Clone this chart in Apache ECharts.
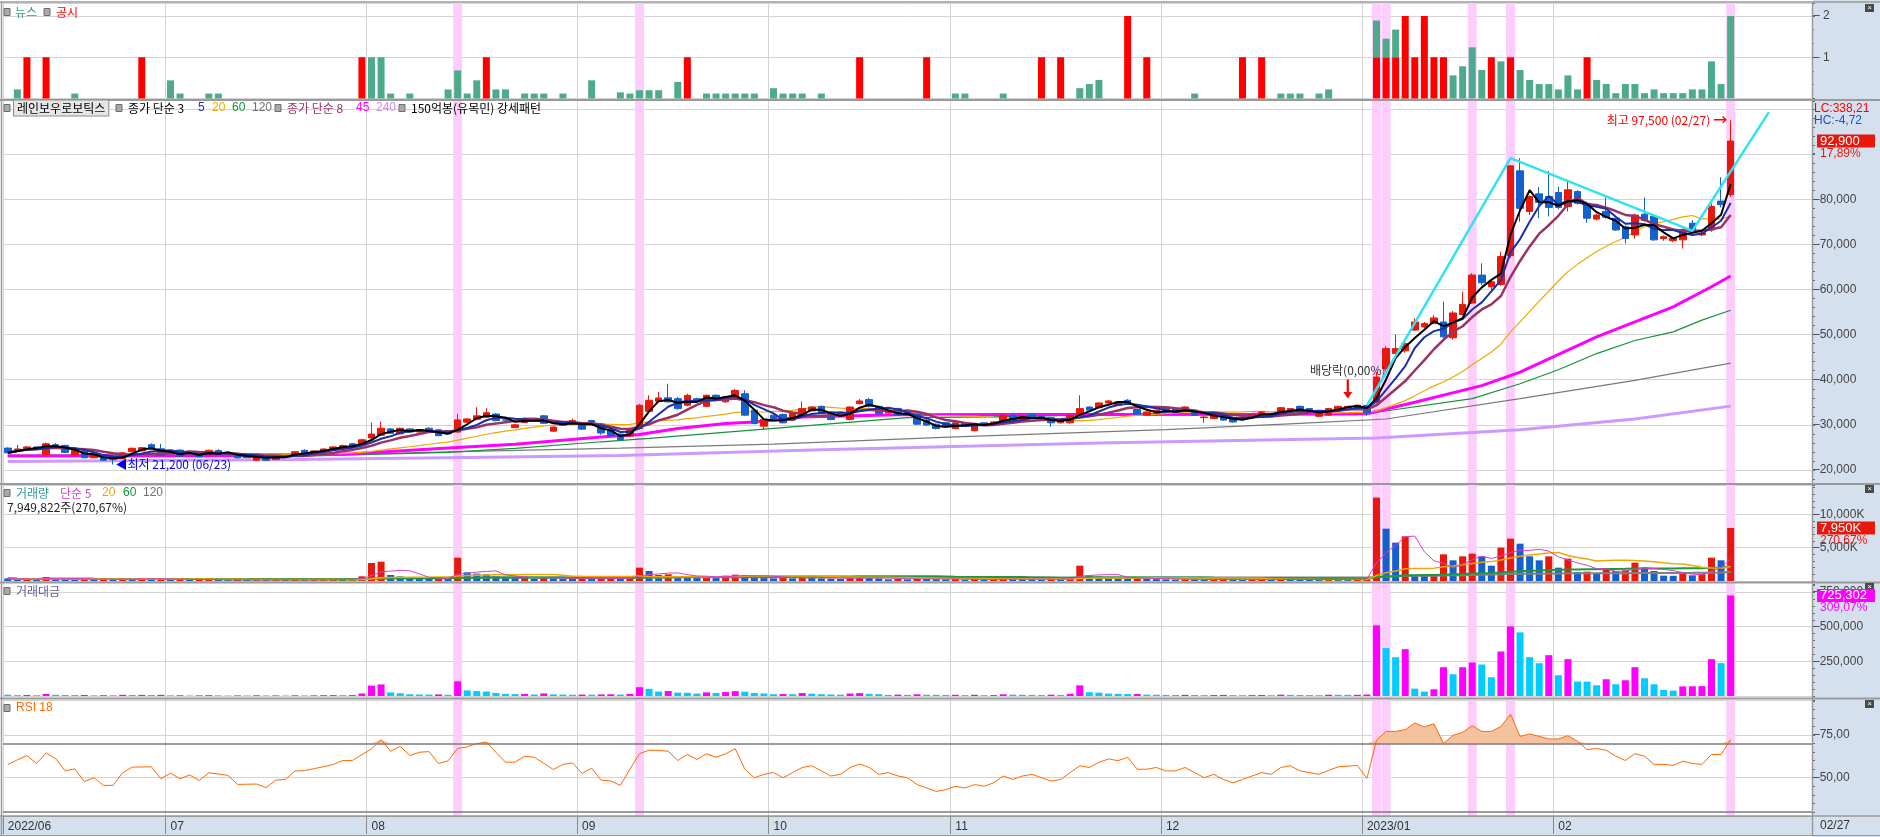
<!DOCTYPE html>
<html><head><meta charset="utf-8">
<script src="https://cdn.jsdelivr.net/npm/echarts@6/dist/echarts.min.js"></script>
<style>html,body{margin:0;padding:0;background:#fff;overflow:hidden}#c{width:1880px;height:837px}</style>
</head><body><div id="c"></div>
<script>
// ---------- categories (trading days) ----------
const monthKeys = ['2022/06','2022/07','2022/08','2022/09','2022/10','2022/11','2022/12','2023/01','2023/02'];
const monthLabelText = ['2022/06','07','08','09','10','11','12','2023/01','02'];
const daysJun22 = [8,9,10,13,14,15,16,17,20,21,22,23,24,27,28,29,30];
const daysJul22 = [1,4,5,6,7,8,11,12,13,14,15,18,19,20,21,22,25,26,27,28,29];
const daysAug22 = [1,2,3,4,5,8,9,10,11,12,16,17,18,19,22,23,24,25,26,29,30,31];
const daysSep22 = [1,2,5,6,7,8,13,14,15,16,19,20,21,22,23,26,27,28,29,30];
const daysOct22 = [4,5,6,7,11,12,13,14,17,18,19,20,21,24,25,26,27,28,31];
const daysNov22 = [1,2,3,4,7,8,9,10,11,14,15,16,17,18,21,22,23,24,25,28,29,30];
const daysDec22 = [1,2,5,6,7,8,9,12,13,14,15,16,19,20,21,22,23,26,27,28,29];
const daysJan23 = [2,3,4,5,6,9,10,11,12,13,16,17,18,19,20,25,26,27,30,31];
const daysFeb23 = [1,2,3,6,7,8,9,10,13,14,15,16,17,20,21,22,23,24,27];
const futureSlots = ['2023/02/28','2023/03/02','2023/03/03','2023/03/06','2023/03/07','2023/03/08','2023/03/09','2023/03/10'];

// ---------- price (OHLC) ----------
const openP = [
24850,24550,24350,25100,23400,25600,25450,23350,24150,22700,
23250,22400,22550,24050,24200,25600,24700,23650,24400,23750,
24050,23350,24300,23700,23600,23200,22150,23000,22300,22900,
23350,24350,23650,24050,24350,24800,25800,25550,27100,27700,
29100,28000,29100,28400,29250,28900,28750,28400,30600,31250,
31700,32400,31100,29400,30500,31250,32000,28600,29900,30400,
30500,30950,30200,28900,27950,27500,29200,33000,35200,36000,
35800,34350,35800,34100,36550,35100,36200,36900,33250,29700,
32150,32300,31050,31750,33100,34100,32650,32850,31200,34700,
35600,34100,32650,33600,32850,32350,31050,30150,30450,29200,
30300,28700,30450,29950,30300,32150,31050,32350,31900,31600,
30450,30450,32150,33950,33800,34850,34350,35450,33400,32150,
32500,33600,33600,33250,33250,31600,31400,32500,31400,31400,
31600,31900,32500,32150,32850,34100,33600,31900,32150,33250,
33400,33600,34300,35050,42450,45800,46400,51000,51700,52450,
52800,49300,54450,57000,63200,60600,61100,67500,86300,77300,
81200,80600,81500,78400,81700,79100,75600,77300,75800,73900,
72100,76700,76200,71300,70800,71000,74700,72100,73200,79600,
81000];
const highP = [
25000,25550,25300,25200,26100,26000,25600,24500,24300,23500,
23300,22700,24000,25000,25100,25900,25800,24400,24500,24300,
24200,24500,24600,24000,23800,23300,23300,23200,23200,23400,
24200,24600,24400,24800,25300,25600,26000,26900,30500,30700,
29300,29400,29300,29100,29500,29000,28900,32400,31500,33900,
33700,32600,31300,30200,31600,31400,32200,29700,30700,31400,
30700,31100,30400,29100,28100,29400,34600,36550,37300,39100,
36200,36900,36000,36700,36800,36400,38000,37650,33400,31400,
32300,32500,32800,35200,34100,34300,32800,33000,34100,35700,
36000,34300,33200,33800,33000,32500,31200,30300,30600,30600,
30400,30400,30600,30800,32300,32300,32000,32500,32000,31700,
31000,32300,36550,34100,35000,35500,35200,35700,33500,33000,
33400,33700,33700,34100,33400,31900,32500,32600,31500,31900,
32500,33000,32600,33900,33700,34300,33700,32600,33700,34200,
34200,34500,34500,41700,47400,50000,48300,53600,52800,54300,
57300,55200,59500,63600,65800,62000,68400,87600,89100,80800,
82700,86300,82800,84300,82000,79500,76800,80400,76000,74200,
76800,80400,76500,72000,71700,73500,75400,72800,79000,84900,
97500];
const lowP = [
23750,24400,24300,24700,23200,25100,23800,23200,22600,22600,
22000,21200,22400,23900,24100,24500,23100,23500,22900,23600,
22800,23200,23500,23500,22600,22600,22000,22000,22200,22800,
23200,23600,23500,23900,24200,24700,25100,25400,26700,27500,
28000,27900,28300,28300,28400,27500,27900,28200,30400,31000,
31500,30800,30900,29300,30400,31000,30200,28500,29800,30300,
28900,30400,27800,27400,26500,27300,29000,32800,35000,34900,
33400,34100,34900,33900,35600,34900,36000,32000,30100,28900,
31200,30300,30900,31600,33000,32300,31000,32000,31000,34500,
33900,32300,32500,32000,32000,30000,29800,29000,29400,29000,
29600,28600,29900,29800,30200,31000,30900,31500,31100,29550,
30300,30300,32000,33100,33700,34700,34200,34700,32200,32000,
32400,32700,32700,33100,32000,30450,31300,30900,30500,31300,
31500,31800,31800,32000,32700,32700,32700,31700,32000,33100,
33300,33500,32000,34800,42000,45500,46000,50800,51500,52300,
49300,48900,54300,56800,61000,59900,60800,67000,75000,76500,
75800,76200,77800,77300,78800,74800,75300,75700,73000,70200,
71300,75000,70800,70800,70500,69100,72900,71800,72800,78200,
80500];
const closeP = [
23800,24650,25100,24800,25800,25250,23900,24350,22700,23400,
22150,22300,23800,24800,24950,24650,23200,24200,23050,24000,
22900,24350,23600,23800,22700,22750,23200,22150,23050,23200,
24050,23750,24200,24650,25100,25400,25250,26700,27950,29250,
28150,29250,28400,28950,28550,27600,28000,31100,31300,32000,
32700,30950,31050,30000,31450,31200,30350,29500,30500,30950,
29050,30500,28200,27600,26750,29200,34350,35450,35950,35100,
33600,36550,35100,36550,35800,36200,37650,32150,30300,31200,
31400,30450,32650,33600,33950,32500,31200,32150,33950,35300,
34100,32500,33000,32150,32150,30150,29950,29200,29550,30450,
29700,30300,29950,30650,32150,31050,31900,31600,31200,30450,
30900,32150,33600,33250,34850,35300,35050,34850,32350,32850,
33250,32850,32850,33950,32150,31750,32350,31050,30650,31750,
32350,32850,31900,33800,33600,32850,32850,32500,33600,34100,
34100,34350,32700,40600,46900,46900,48000,52800,52450,53700,
49500,54800,56700,63200,61500,61700,67300,87400,78000,80600,
79300,78200,78200,82100,79100,75800,76500,76000,73200,71300,
76500,75300,71000,71700,71300,73300,73200,72500,78400,78800,
92900];

// long moving averages: [dayIndex, value]
const ma45Pts = [[0,23100],[28,23150],[36,23600],[46,24850],[53,25700],[62,27300],[66,27850],[70,29200],[75,30300],[78,30650],[83,31750],[93,32250],[104,32280],[114,32300],[130,32350],[142,32450],[147,35000],[154,38700],[158,41700],[166,49500],[174,56150],[178,60600],[180,63000]];
const ma60Pts = [[0,23000],[33,23200],[40,23550],[46,23900],[53,24800],[62,26250],[67,27000],[80,29200],[94,31600],[103,31770],[114,32200],[129,32300],[141,32280],[143,32800],[153,35800],[158,39100],[162,42200],[166,45800],[170,48700],[174,50600],[177,53200],[180,55400]];
const ma120Pts = [[0,23300],[40,23700],[46,24000],[64,24850],[80,25750],[99,27350],[121,28950],[135,30350],[144,31300],[158,35800],[170,39850],[180,43700]];
const ma240Pts = [[0,21900],[30,22300],[50,22800],[64,23200],[85,24500],[114,26000],[143,27100],[158,28900],[170,31300],[180,34150]];
// cyan pattern line: [dayIndex, price]
const trendPts = [[142,34300],[157,89100],[176,73000],[184,99300]];

// ---------- volume (K shares) ----------
const volumeK = [
400,250,300,220,600,350,300,280,320,200,
260,240,380,300,320,280,350,200,230,150,
200,250,180,140,200,160,230,180,200,150,
220,170,200,240,260,230,250,700,2700,2900,
900,700,450,380,350,420,300,3500,1300,1100,
1000,700,500,450,500,350,600,400,350,300,
350,320,400,450,380,500,2000,1500,900,1000,
700,650,500,750,600,800,950,900,700,600,
400,450,400,650,500,400,350,300,550,600,
450,400,250,300,250,400,300,280,250,300,
200,300,200,220,400,300,280,250,220,300,
250,500,2300,800,700,500,450,400,450,300,
280,250,220,250,230,200,220,250,200,180,
200,230,180,300,250,220,200,180,280,260,
250,260,330,12500,7850,5750,6700,850,800,1000,
4000,3100,3700,4100,3700,2300,5000,6350,5600,3700,
3100,3700,2000,3350,1350,1400,1100,1850,1500,1600,
2750,2000,1500,800,780,1200,850,1100,3500,3100,
7949.822];
// ---------- trading amount (million KRW) ----------
const amountM = [
9600,6150,7500,5500,15000,8900,7350,6700,7450,4600,
5900,5350,8850,7350,7900,7000,8400,4800,5400,3600,
4700,6000,4300,3300,4600,3700,5250,4050,4550,3450,
5250,4100,4800,5850,6450,5800,6400,18400,75000,83800,
25700,20200,13000,10900,10100,11800,8500,106000,40300,35000,
32300,22200,15500,13400,15500,10900,18700,11600,10600,9200,
10400,9800,11600,12700,10400,14200,63600,51750,32000,36000,
24300,23100,17700,26500,21700,28500,35100,31000,22200,18300,
12700,14100,12800,21400,16800,13300,11200,9750,17900,21000,
15700,13300,8200,9900,8100,12500,9150,8300,7500,8950,
6000,8850,6050,6650,12500,9500,8800,8000,6950,9300,
7650,15600,77000,26900,24000,17500,15600,14000,14700,9750,
9200,8300,7300,8400,7500,6300,7000,7950,6200,5700,
6400,7450,5800,9900,8300,7350,6650,5800,9200,8750,
8450,8850,11000,509600,345300,280100,338100,53100,31400,48300,
207700,157000,207700,241500,227000,135200,321200,502300,458900,280100,
236700,294600,149700,265700,104000,103500,77300,120800,84500,113500,
207700,128000,84500,43500,38600,69000,70000,71000,265700,236700,
725302];
// ---------- RSI 18 ----------
const rsi18 = [
57.6,60.5,63,58.3,64.5,61.2,54,55.2,47.7,50,
45.5,45.5,52.9,56.2,56.3,56.4,49.4,52.7,49.4,51.6,
48.4,52.9,52.2,51.4,46.1,46.2,46.3,44.2,48.6,49,
53.9,54.2,55.3,56.5,57.8,60.1,60.1,63.5,66.9,72.3,
65.5,68.4,63,64.9,65.3,58.3,59.9,67.2,68,70,
70.9,64.9,59.1,59.1,62.6,62,58.5,54.8,57.8,58.7,
52.5,55.6,48.6,48.1,45.5,55,64.1,66.1,66,65.5,
60.1,63.6,60.7,64,62,64,67,55,50,52,
53,50,53,56,57,54,51,52,56,58,
56,52,53,51,50,46,44,42,43,45,
44,46,45,47,51,49,51,52,50,48,
49,53,57,56,59,61,60,62,55,55,
56,54,54,56,53,50,52,49,47,49,
51,53,52,56,57,54,53,52,54.3,56.4,
56.8,57.2,49.6,72,77.1,77.1,78.1,82,79.7,81.6,
70,74.8,76.6,80.4,77.1,77.1,80,87.2,74.2,75.6,
74.2,72.7,72.7,74.6,71.3,66.5,67.1,66.1,62.6,60.1,
64.1,62.6,57.8,57.8,57.2,59.7,58.3,57.8,63.6,63.6,
72.3];
// ---------- news / disclosure counts: [dayIndex, count] ----------
const newsPts = [[1,0.22],[7,0.12],[17,0.44],[18,0.12],[21,0.12],[22,0.12],[38,1],[39,1],[40,0.12],[42,0.12],[46,0.22],[47,0.68],[48,0.12],[49,0.44],[51,0.22],[52,0.22],[54,0.12],[55,0.12],[56,0.12],[58,0.12],[61,0.44],
[64,0.15],[65,0.12],[66,0.2],[67,0.2],[68,0.2],[70,0.4],[73,0.12],[74,0.12],[75,0.12],[76,0.12],[77,0.12],[78,0.12],[80,0.25],[81,0.12],[82,0.12],[83,0.12],[85,0.12],[99,0.12],[100,0.12],[104,0.12],[112,0.25],[113,0.35],[114,0.45],[124,0.12],[133,0.12],[134,0.12],[135,0.12],[137,0.12],[138,0.22],
[143,0.89],[144,0.45],[145,0.67],[151,0.56],[152,0.78],[153,1.24],[154,0.69],[156,0.9],[158,0.69],[159,0.45],[160,0.35],[161,0.35],[162,0.22],[163,0.56],[164,0.22],[166,0.45],[167,0.35],[168,0.13],[169,0.35],[170,0.35],[171,0.13],[172,0.22],[173,0.13],[174,0.13],[175,0.13],[176,0.22],[177,0.22],[178,0.9],[179,0.35],[180,2]];
const disclosurePts = [[2,1],[4,1],[14,1],[37,1],[50,1],[71,1],[89,1],[96,1],[108,1],[110,1],[117,2],[119,1],[129,1],[131,1],[143,1],[144,1],[145,1],[146,2],[147,1],[148,2],[149,1],[150,1],[155,1],[157,1],[165,1]];
// highlighted (pink) days
const highlightIdx = [47,66,143,144,153,157,180];
// last-value tags on the right axis
const priceTag = ['92,900', '17,89%'];
const volumeTag = ['7,950K', '270,67%'];
const amountTag = ['725,302', '309,07%'];

// ---------- build ----------
const dayLists = [daysJun22,daysJul22,daysAug22,daysSep22,daysOct22,daysNov22,daysDec22,daysJan23,daysFeb23];
const dates = []; const monthStart = {};
monthKeys.forEach((m,k)=>{ dayLists[k].forEach((d,j)=>{ if(j===0) monthStart[dates.length]=monthLabelText[k]; dates.push(m+'/'+String(d).padStart(2,'0')); }); });
const cats = dates.concat(futureSlots);
const N = dates.length;

function sma(arr, n, fromFull){ return arr.map((v,i)=>{ if(fromFull && i<n-1) return '-'; let s=0,c=0; for(let k=Math.max(0,i-n+1);k<=i;k++){s+=arr[k];c++;} return +(s/c).toFixed(2); }); }
function sparse(list){ const a=new Array(N).fill(0); list.forEach(p=>{a[p[0]]=p[1];}); return a; }
const pts = list => list.map(p=>[cats[p[0]], p[1]]);
const fmt = v => Math.round(v).toLocaleString('en-US');

const RED='#e8190c', BLUE='#1460cc', GRID='#d3d3d3', T='rgba(0,0,0,0)', PANEL='#d5e0ee';
const NUMFONT = "'Liberation Sans', Arial, sans-serif";
const KFONT = "'Noto Sans CJK KR', 'Liberation Sans', sans-serif";
const L=3, W=1809;
const RSI_OB = 70;

const xa = (gi, show) => ({ type:'category', gridIndex:gi, data:cats, boundaryGap:true, show:show,
  axisLine:{show:show, lineStyle:{color:'#9a9a9a'}},
  axisTick:{show:show, interval:(i)=>monthStart[i]!==undefined, length:18, lineStyle:{color:'#8a8a8a'}},
  splitLine:{show:show, interval:(i)=>monthStart[i]!==undefined, lineStyle:{color:GRID}},
  axisLabel:{show:show, interval:(i)=>monthStart[i]!==undefined, formatter:(v,i)=>monthStart[i]||'', align:'left', margin:5, color:'#333', fontSize:12, fontFamily:NUMFONT}
});
const ya = (gi, o) => Object.assign({ type:'value', gridIndex:gi, position:'right', scale:false,
  axisLine:{show:true, lineStyle:{color:'#9a9a9a'}},
  axisTick:{show:true, length:3, lineStyle:{color:'#666'}},
  axisLabel:{margin:1, color:'#444', fontSize:12, fontFamily:NUMFONT}
}, o);

const closeMA3 = sma(closeP,3,false), closeMA5 = sma(closeP,5,false), closeMA8 = sma(closeP,8,false), closeMA20 = sma(closeP,20,true);
const volMA5 = sma(volumeK,5,false), volMA20 = sma(volumeK,20,false), volMA60 = sma(volumeK,60,false), volMA120 = sma(volumeK,120,false);

const line = (name, data, color, width, xi, yi, z) => ({ name, type:'line', data, xAxisIndex:xi, yAxisIndex:yi, showSymbol:false, symbol:'none', silent:true, z:z||2,
  lineStyle:{color, width}, itemStyle:{color} });

const series = [];
// pink highlight columns (full height)
series.push({ type:'bar', xAxisIndex:0, yAxisIndex:0, data: dates.map((d,i)=>highlightIdx.includes(i)?1:0), barWidth:9, itemStyle:{color:'#fdcdfb'}, silent:true, z:0 });
// news panel
series.push({ type:'bar', xAxisIndex:1, yAxisIndex:1, stack:'n', data:sparse(disclosurePts), barWidth:7, itemStyle:{color:'#ff0000'}, silent:true });
series.push({ type:'bar', xAxisIndex:1, yAxisIndex:1, stack:'n', data:sparse(newsPts), barWidth:7, itemStyle:{color:'#4dab8c'}, silent:true });
// price MAs
series.push(line('ma240', pts(ma240Pts), '#cc99ff', 3, 2, 2));
series.push(line('ma120', pts(ma120Pts), '#7a7a7a', 1.2, 2, 2));
series.push(line('ma60', pts(ma60Pts), '#169238', 1.2, 2, 2));
series.push(line('ma45', pts(ma45Pts), '#ff00ff', 3, 2, 2));
series.push(line('ma20', closeMA20, '#f0a800', 1.2, 2, 2));
series.push(line('ma8', closeMA8, '#993366', 2.5, 2, 2, 4));
series.push(line('ma5', closeMA5, '#1b2fa6', 2, 2, 2, 4));
series.push(line('ma3', closeMA3, '#000000', 2, 2, 2, 4));
// candles
series.push({ type:'candlestick', xAxisIndex:2, yAxisIndex:2, barWidth:7, z:3, silent:true,
  data: dates.map((d,i)=>[openP[i], closeP[i], lowP[i], highP[i]]),
  itemStyle:{ color:RED, color0:BLUE, borderColor:RED, borderColor0:BLUE, borderWidth:1 },
  markPoint:{ silent:true, data:[
    { coord:[cats[180], highP[180]], symbol:'circle', symbolSize:1, itemStyle:{color:T},
      label:{show:true, position:'left', distance:3, formatter:'{t|최고 97,500 (02/27)} {a|→}', color:'#ff0000',
        rich:{ t:{color:'#ff0000', fontSize:12, fontFamily:KFONT}, a:{color:'#ff0000', fontSize:17, fontFamily:'DejaVu Sans'} } } },
    { coord:[cats[11], lowP[11]], symbol:'circle', symbolSize:1, itemStyle:{color:T},
      label:{show:true, position:'right', distance:2, formatter:'◀최저 21,200 (06/23)', color:'#0000ee', fontSize:12, fontFamily:KFONT} },
    { coord:[cats[140], highP[140]], symbol:'path://M3,0 L5,0 L5,12 L8,12 L4,18 L0,12 L3,12 Z', symbolSize:[9,19], symbolOffset:[0,-17], itemStyle:{color:'#ff0000'},
      label:{show:true, position:'top', distance:3, formatter:'배당락(0,00%)', color:'#333', fontSize:12, fontFamily:KFONT} }
  ]}
});
series.push(line('trend', pts(trendPts), '#2fe3f0', 2.5, 2, 2, 5));
// volume
series.push({ type:'bar', xAxisIndex:3, yAxisIndex:3, data:volumeK, barWidth:7, silent:true,
  itemStyle:{ color:p=> (p.dataIndex>0 && volumeK[p.dataIndex]>volumeK[p.dataIndex-1]) ? RED : BLUE } });
series.push(line('v120', volMA120, '#808080', 2, 3, 3));
series.push(line('v60', volMA60, '#1a9a3a', 2, 3, 3));
series.push(line('v20', volMA20, '#f0a800', 1.5, 3, 3));
series.push(line('v5', volMA5, '#d63fc8', 1, 3, 3));
// amount
series.push({ type:'bar', xAxisIndex:4, yAxisIndex:4, data:amountM, barWidth:7, silent:true,
  itemStyle:{ color:p=> (p.dataIndex>0 && amountM[p.dataIndex]>amountM[p.dataIndex-1]) ? '#ff00ff' : '#00ccff' } });
// RSI: shaded part above 70 (stacked on a 70 base), then the line
series.push({ type:'line', xAxisIndex:5, yAxisIndex:5, stack:'rsiFill', data:rsi18.map(()=>RSI_OB), showSymbol:false, symbol:'none', silent:true, lineStyle:{width:0, opacity:0}, z:1 });
series.push({ type:'line', xAxisIndex:5, yAxisIndex:5, stack:'rsiFill', data:rsi18.map(v=>Math.max(v,RSI_OB)-RSI_OB), showSymbol:false, symbol:'none', silent:true, lineStyle:{width:0, opacity:0}, areaStyle:{color:'#f4c29f', opacity:1}, z:1 });
series.push({ type:'line', xAxisIndex:5, yAxisIndex:5, data:rsi18, showSymbol:false, symbol:'none', silent:true,
  lineStyle:{color:'#ff6a00', width:1}, itemStyle:{color:'#ff6a00'}, z:3,
  markLine:{ silent:true, symbol:'none', label:{show:false}, lineStyle:{color:'#7a7a7a', width:1.5, type:'solid'}, data:[{yAxis:70},{yAxis:30}] } });

// ---------- legends / texts ----------
const sqBox = (x, y) => ({ type:'rect', shape:{x:x, y:y-3.5, width:6, height:7}, style:{fill:'#a9a9a9', stroke:'#6e6e6e', lineWidth:1}, z:100 });
const txt = (x, y, text, fill, font) => ({ type:'text', x, y, z:100, style:{ text, fill:fill||'#000', fontSize:12, fontFamily:font||KFONT, verticalAlign:'middle' } });
const graphic = [
  { type:'rect', shape:{x:1813, y:0, width:67, height:837}, style:{fill:PANEL}, z:-10 },
  { type:'rect', shape:{x:0, y:816, width:1880, height:19}, style:{fill:PANEL}, z:-10 },
  { type:'line', shape:{x1:0, y1:835.5, x2:1880, y2:835.5}, style:{stroke:'#9a9a9a', lineWidth:1}, z:50 },
  { type:'line', shape:{x1:0, y1:2, x2:1880, y2:2}, style:{stroke:'#9a9a9a', lineWidth:1.5}, z:50 },
  { type:'line', shape:{x1:1.5, y1:2, x2:1.5, y2:836}, style:{stroke:'#9a9a9a', lineWidth:1.5}, z:50 },
  { type:'line', shape:{x1:0, y1:100, x2:1880, y2:100}, style:{stroke:'#9a9a9a', lineWidth:2}, z:50 },
  { type:'line', shape:{x1:0, y1:484, x2:1880, y2:484}, style:{stroke:'#9a9a9a', lineWidth:2}, z:50 },
  { type:'line', shape:{x1:0, y1:582.5, x2:1880, y2:582.5}, style:{stroke:'#9a9a9a', lineWidth:2}, z:50 },
  { type:'line', shape:{x1:0, y1:698.5, x2:1880, y2:698.5}, style:{stroke:'#9a9a9a', lineWidth:2}, z:50 },
  { type:'line', shape:{x1:0, y1:816, x2:1880, y2:816}, style:{stroke:'#9a9a9a', lineWidth:1.5}, z:50 },
  { type:'line', shape:{x1:1812.5, y1:2, x2:1812.5, y2:836}, style:{stroke:'#9a9a9a', lineWidth:1.5}, z:50 },
  // news legend
  sqBox(4,12), txt(15,12,'뉴스','#2f9e7e'), sqBox(44,12), txt(56,12,'공시','#ff0000'),
  // price legend
  sqBox(4,108),
  { type:'text', x:14, y:108, z:100, style:{ text:'레인보우로보틱스', fill:'#000', fontSize:12, fontFamily:KFONT, verticalAlign:'middle', backgroundColor:'#e6e6e6', borderColor:'#8c8c8c', borderWidth:1, padding:[2,3,1,3] } },
  sqBox(116,108), txt(128,108,'종가 단순 3'), txt(198,108,'5','#1b2fa6',NUMFONT), txt(212,108,'20','#f0a800',NUMFONT), txt(232,108,'60','#169238',NUMFONT), txt(252,108,'120','#707070',NUMFONT),
  sqBox(275,108), txt(287,108,'종가 단순 8','#993366'), txt(356,108,'45','#ff00ff',NUMFONT), txt(376,108,'240','#c090f0',NUMFONT),
  sqBox(399,108), txt(411,108,'150억봉(유목민) 강세패턴'),
  // volume legend
  sqBox(4,493), txt(16,493,'거래량','#2e9a9a'), txt(60,493,'단순 5','#d63fc8'), txt(102,493,'20','#f0a800',NUMFONT), txt(123,493,'60','#169238',NUMFONT), txt(143,493,'120','#707070',NUMFONT),
  txt(7,507,'7,949,822주(270,67%)','#222'),
  // amount legend
  sqBox(4,591), txt(16,591,'거래대금','#66609a'),
  // rsi legend
  sqBox(4,708), txt(16,708,'RSI 18','#ff6a00',NUMFONT),
  // right side texts
  txt(1814,109,'LC:338,21','#ff0000',NUMFONT),
  txt(1814,121,'HC:-4,72','#1a4fd0',NUMFONT),
  txt(1820,826,'02/27','#333',NUMFONT),
];
[8, 489, 587, 704].forEach(y=>{
  graphic.push({ type:'rect', shape:{x:1865, y:y-4, width:9, height:8}, style:{fill:'#4a4a4a'}, z:60 });
  graphic.push({ type:'text', x:1869.5, y:y, z:61, style:{text:'×', fill:'#fff', fontSize:8, align:'center', verticalAlign:'middle', fontFamily:NUMFONT} });
});

const option = {
  animation:false,
  backgroundColor:'#ffffff',
  textStyle:{fontFamily:KFONT},
  grid:[
    {left:L, width:W, top:3, height:813, outerBoundsMode:'none'},
    {left:L, width:W, top:3.6, height:94.9, outerBoundsMode:'none'},
    {left:L, width:W, top:100.9, height:378.1, outerBoundsMode:'none'},
    {left:L, width:W, top:485, height:96, outerBoundsMode:'none'},
    {left:L, width:W, top:584, height:112, outerBoundsMode:'none'},
    {left:L, width:W, top:700, height:111.9, outerBoundsMode:'none'}
  ],
  xAxis:[ xa(0,true), xa(1,false), xa(2,false), xa(3,false), xa(4,false), xa(5,false) ],
  yAxis:[
    { type:'value', gridIndex:0, min:0, max:1, show:false },
    ya(1, { min:0, max:2.3, interval:1, minorTick:{show:true, splitNumber:3, length:2, lineStyle:{color:'#666'}},
      splitLine:{show:true, lineStyle:{color:[GRID]}},
      axisLabel:{margin:1, color:'#444', fontSize:12, fontFamily:NUMFONT, formatter:v=>(v===1||v===2)?'– '+v:''} }),
    ya(2, { min:18000, max:101800, interval:2000,
      splitLine:{show:true, lineStyle:{color:[T,GRID,T,T,T]}},
      axisLabel:{margin:1, color:'#444', fontSize:12, fontFamily:NUMFONT, formatter:v=>(v%10000===0 && v>=20000 && v<=90000)?'–'+fmt(v):''} }),
    ya(3, { min:0, max:14393, interval:1000,
      splitLine:{show:true, lineStyle:{color:[GRID,T,T,T,T]}},
      axisLabel:{margin:1, color:'#444', fontSize:12, fontFamily:NUMFONT, formatter:v=>(v%5000===0 && v>0)?'–'+fmt(v)+'K':''} }),
    ya(4, { min:0, max:808000, interval:50000,
      splitLine:{show:true, lineStyle:{color:[GRID,T,T,T,T]}},
      axisLabel:{margin:1, color:'#444', fontSize:12, fontFamily:NUMFONT, formatter:v=>(v%250000===0 && v>0)?'–'+fmt(v):''} }),
    ya(5, { min:30, max:95.5, interval:5,
      splitLine:{show:true, lineStyle:{color:[T,T,T,T,GRID]}},
      axisLabel:{margin:1, color:'#444', fontSize:12, fontFamily:NUMFONT, formatter:v=>(v===50||v===75)?'–'+v.toFixed(2).replace('.',','):''} })
  ],
  series,
  graphic
};
const chart = echarts.init(document.getElementById('c'), null, {renderer:'canvas'});
chart.setOption(option);

// value tags placed at the last values through the axes' own scales
function tag(yAxisIndex, value, texts, bg, coverBelow){
  const y = chart.convertToPixel({yAxisIndex}, value);
  const els = [];
  if (coverBelow) els.push({ type:'rect', shape:{x:1815, y:y+6, width:62, height:13}, style:{fill:PANEL}, z:110 });
  els.push({ type:'rect', shape:{x:1817, y:y-6.5, width:58, height:13}, style:{fill:bg}, z:111 });
  els.push({ type:'text', x:1820, y:y, z:112, style:{text:texts[0], fill:'#fff', fontSize:13, fontFamily:NUMFONT, verticalAlign:'middle'} });
  els.push({ type:'text', x:1820, y:y+12.5, z:112, style:{text:texts[1], fill:bg, fontSize:12, fontFamily:NUMFONT, verticalAlign:'middle'} });
  return els;
}
const tags = [].concat(
  tag(2, closeP[N-1], priceTag, RED, true),
  tag(3, volumeK[N-1], volumeTag, RED, false),
  tag(4, amountM[N-1], amountTag, '#ff00ff', false)
);
chart.setOption({ graphic: graphic.concat(tags) });
</script>
</body></html>
